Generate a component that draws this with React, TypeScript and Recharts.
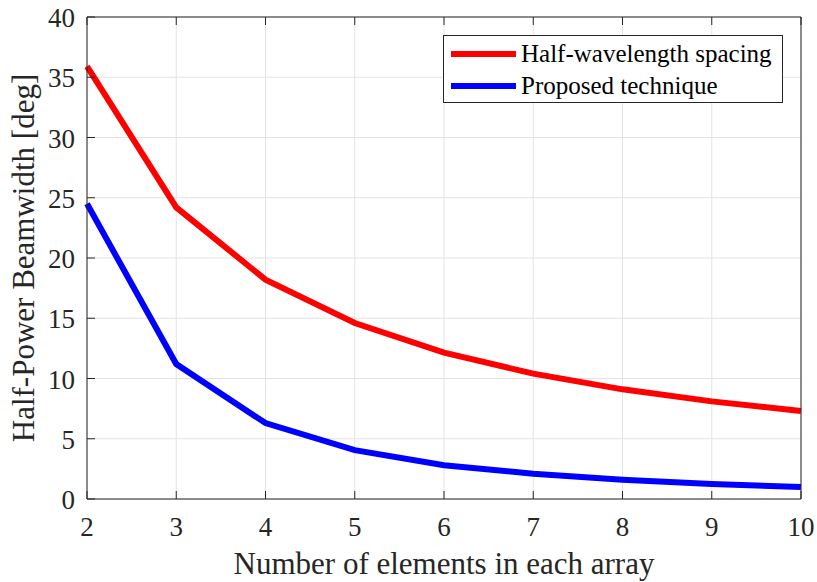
import React from 'react';
import {
    LineChart,
    Line,
    XAxis,
    YAxis,
    CartesianGrid,
    Legend
} from 'recharts';

const elements = [2, 3, 4, 5, 6, 7, 8, 9, 10];
const halfWavelength = [35.9, 24.2, 18.2, 14.6, 12.15, 10.4, 9.1, 8.1, 7.3];
const proposed = [24.5, 11.2, 6.3, 4.05, 2.8, 2.1, 1.6, 1.25, 1.0];
const xTicks = [2, 3, 4, 5, 6, 7, 8, 9, 10];
const yTicks = [0, 5, 10, 15, 20, 25, 30, 35, 40];

const data = elements.map((n, i) => ({
    n,
    half: halfWavelength[i],
    prop: proposed[i]
}));

const FONT = '"Liberation Serif", "Times New Roman", serif';
const AXIS = '#262626';
const TICK_LEN = 8;

// inward ticks, matlab style
const BottomTick = (props: any) => {
    const { x, y, payload } = props;
    return (
        <g>
            <line x1={x} y1={y} x2={x} y2={y - TICK_LEN} stroke={AXIS} strokeWidth={1} />
            <text x={x} y={y + 37} textAnchor="middle" fontFamily={FONT} fontSize={27} fill={AXIS}>
                {payload.value}
            </text>
        </g>
    );
};

const TopTick = (props: any) => {
    const { x, y } = props;
    return <line x1={x} y1={y} x2={x} y2={y + TICK_LEN} stroke={AXIS} strokeWidth={1} />;
};

const LeftTick = (props: any) => {
    const { x, y, payload } = props;
    return (
        <g>
            <line x1={x} y1={y} x2={x + TICK_LEN} y2={y} stroke={AXIS} strokeWidth={1} />
            <text x={x - 12} y={y + 10} textAnchor="end" fontFamily={FONT} fontSize={27} fill={AXIS}>
                {payload.value}
            </text>
        </g>
    );
};

const RightTick = (props: any) => {
    const { x, y } = props;
    return <line x1={x} y1={y} x2={x - TICK_LEN} y2={y} stroke={AXIS} strokeWidth={1} />;
};

const LegendBox = () => {
    const rows = [
        { name: 'Half-wavelength spacing', color: '#ff0000' },
        { name: 'Proposed technique', color: '#0000ff' }
    ];
    return (
        <div
            style={{
                position: 'relative',
                width: 338,
                height: 66,
                border: `1px solid ${AXIS}`,
                background: '#fff',
                fontFamily: FONT,
                fontSize: 25,
                color: '#000'
            }}
        >
            {rows.map((r, i) => (
                <div
                    key={r.name}
                    style={{ position: 'absolute', left: 0, top: 2 + i * 32, height: 32, display: 'flex', alignItems: 'center' }}
                >
                    <span style={{ display: 'inline-block', marginLeft: 7, width: 65, height: 6, background: r.color }} />
                    <span style={{ marginLeft: 5, whiteSpace: 'nowrap' }}>{r.name}</span>
                </div>
            ))}
        </div>
    );
};

export default function App() {
    return (
        <div style={{ position: 'absolute', left: 0, top: 0, width: 817, height: 582, background: '#fff' }}>
            <LineChart
                width={817}
                height={582}
                data={data}
                margin={{ top: 16, right: 15, bottom: 23, left: 27 }}
            >
                <CartesianGrid stroke="#e3e3e3" strokeWidth={1} />
                <XAxis
                    dataKey="n"
                    type="number"
                    domain={[2, 10]}
                    ticks={xTicks}
                    height={60}
                    tickSize={0}
                    tickMargin={0}
                    tick={<BottomTick />}
                    axisLine={{ stroke: AXIS }}
                    tickLine={false}
                    label={{
                        value: 'Number of elements in each array',
                        position: 'insideBottom',
                        offset: -15,
                        fontFamily: FONT,
                        fontSize: 31,
                        fill: AXIS
                    }}
                />
                <XAxis
                    xAxisId="top"
                    orientation="top"
                    dataKey="n"
                    type="number"
                    domain={[2, 10]}
                    ticks={xTicks}
                    height={1}
                    tickSize={0}
                    tickMargin={0}
                    tick={<TopTick />}
                    axisLine={{ stroke: AXIS }}
                    tickLine={false}
                />
                <YAxis
                    type="number"
                    domain={[0, 40]}
                    ticks={yTicks}
                    width={60}
                    tickSize={0}
                    tickMargin={0}
                    tick={<LeftTick />}
                    axisLine={{ stroke: AXIS }}
                    tickLine={false}
                    label={{
                        value: 'Half-Power Beamwidth [deg]',
                        angle: -90,
                        position: 'insideLeft',
                        offset: -4,
                        style: { textAnchor: 'middle' },
                        fontFamily: FONT,
                        fontSize: 31,
                        fill: AXIS
                    }}
                />
                <YAxis
                    yAxisId="right"
                    orientation="right"
                    type="number"
                    domain={[0, 40]}
                    ticks={yTicks}
                    width={1}
                    tickSize={0}
                    tickMargin={0}
                    tick={<RightTick />}
                    axisLine={{ stroke: AXIS }}
                    tickLine={false}
                />
                <Legend
                    layout="horizontal"
                    verticalAlign="middle"
                    align="center"
                    content={<LegendBox />}
                    wrapperStyle={{ position: 'absolute', left: 443, top: 35, width: 340, height: 68 }}
                />
                <Line
                    dataKey="half"
                    stroke="#ff0000"
                    strokeWidth={6}
                    dot={false}
                    isAnimationActive={false}
                />
                <Line
                    dataKey="prop"
                    stroke="#0000ff"
                    strokeWidth={6}
                    dot={false}
                    isAnimationActive={false}
                />
            </LineChart>
        </div>
    );
}
